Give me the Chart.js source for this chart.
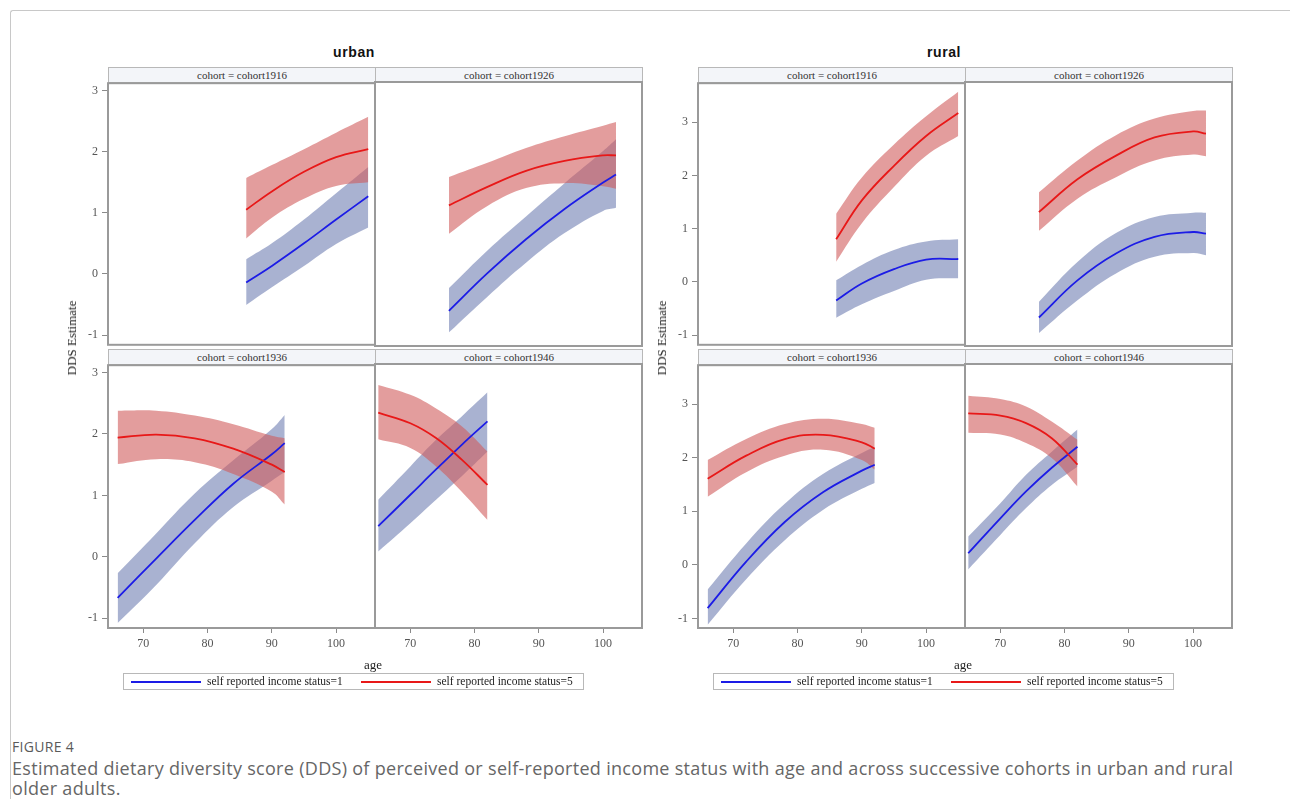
<!DOCTYPE html>
<html>
<head>
<meta charset="utf-8">
<script src="https://cdn.jsdelivr.net/npm/chart.js@4.4.1/dist/chart.umd.min.js"></script>
<style>
  body { margin: 0; background: #fff; }
  #page { position: relative; width: 1290px; height: 799px; overflow: hidden; background: #fff; }
  #frame { position: absolute; left: 10px; top: 10px; width: 1300px; height: 800px;
           border-top: 1px solid #c8c8c8; border-left: 1px solid #c8c8c8; border-top-left-radius: 3px; }
  canvas { position: absolute; }
  .strip { position: absolute; box-sizing: border-box; height: 16px; background: #f3f5f9;
           border: 1px solid #b8b8b8; font: 11px "Liberation Serif", serif; color: #333;
           text-align: center; line-height: 14px; }
  .title { position: absolute; font: bold 14px "Liberation Sans", Arial, sans-serif; color: #111;
           transform: translate(-50%, -50%); letter-spacing: 0.6px; }
  .serif { position: absolute; font: 13px "Liberation Serif", serif; color: #222; white-space: nowrap; }
  .legend { position: absolute; box-sizing: border-box; height: 17px; border: 1px solid #b8b8b8; background: #fff; }
  .swatch { position: absolute; height: 2px; top: 7px; }
  .legtxt { position: absolute; top: 1px; font: 11.5px "Liberation Serif", serif; color: #222; white-space: nowrap; }
  #figlabel { position: absolute; left: 12px; top: 737px; font: 14px "Open Sans", sans-serif; color: #5a5a5a; letter-spacing: 0.3px; }
  #caption { position: absolute; left: 12px; top: 758px; font: 18px/20px "Open Sans", sans-serif; color: #666; letter-spacing: 0.3px; white-space: nowrap; }
</style>
</head>
<body>
<div id="page"><div id="frame"></div></div>
<script>
// ---------- data ----------
const areas = ['urban', 'rural'];
const cohorts = ['cohort1916', 'cohort1926', 'cohort1936', 'cohort1946'];
const legendLabels = ['self reported income status=1', 'self reported income status=5'];
const xTicks = [70, 80, 90, 100];
const yTicks = [-1, 0, 1, 2, 3];

const ages1916 = [86, 90, 95, 100, 105];
const ages1926 = [76, 82, 88, 94, 100, 102];
const ages1936 = [66, 72, 78, 84, 90, 92];
const ages1946 = [65, 70, 74, 78, 82];

// urban
const u16Est1 = [-0.14, 0.13, 0.50, 0.89, 1.27];
const u16Lo1  = [-0.51, -0.22, 0.13, 0.49, 0.76];
const u16Hi1  = [0.24, 0.50, 0.89, 1.32, 1.75];
const u16Est5 = [1.05, 1.35, 1.67, 1.91, 2.04];
const u16Lo5  = [0.58, 0.92, 1.23, 1.44, 1.50];
const u16Hi5  = [1.57, 1.78, 2.04, 2.31, 2.57];

const u26Est1 = [-0.59, 0.02, 0.57, 1.06, 1.49, 1.62];
const u26Lo1  = [-0.94, -0.36, 0.19, 0.67, 1.03, 1.08];
const u26Hi1  = [-0.22, 0.39, 0.94, 1.48, 2.00, 2.19];
const u26Est5 = [1.12, 1.42, 1.68, 1.84, 1.93, 1.93];
const u26Lo5  = [0.66, 1.11, 1.40, 1.48, 1.43, 1.39];
const u26Hi5  = [1.58, 1.81, 2.05, 2.24, 2.41, 2.47];

const u36Est1 = [-0.67, -0.03, 0.60, 1.19, 1.67, 1.85];
const u36Lo1  = [-1.08, -0.46, 0.22, 0.81, 1.24, 1.38];
const u36Hi1  = [-0.27, 0.38, 1.03, 1.57, 2.08, 2.31];
const u36Est5 = [1.94, 1.99, 1.93, 1.76, 1.50, 1.38];
const u36Lo5  = [1.51, 1.59, 1.54, 1.35, 1.06, 0.85];
const u36Hi5  = [2.38, 2.38, 2.30, 2.16, 1.97, 1.93];

const u46Est1 = [0.49, 1.00, 1.41, 1.81, 2.19];
const u46Lo1  = [0.08, 0.54, 0.92, 1.30, 1.70];
const u46Hi1  = [0.92, 1.46, 1.89, 2.27, 2.66];
const u46Est5 = [2.33, 2.16, 1.92, 1.57, 1.16];
const u46Lo5  = [1.90, 1.76, 1.46, 1.05, 0.59];
const u46Hi5  = [2.78, 2.62, 2.40, 2.11, 1.70];

// rural
const r16Est1 = [-0.35, -0.03, 0.24, 0.42, 0.43];
const r16Lo1  = [-0.67, -0.42, -0.17, 0.04, 0.07];
const r16Hi1  = [0.03, 0.32, 0.60, 0.76, 0.80];
const r16Est5 = [0.80, 1.53, 2.18, 2.74, 3.17];
const r16Lo5  = [0.38, 1.10, 1.78, 2.37, 2.74];
const r16Hi5  = [1.28, 1.96, 2.58, 3.11, 3.57];

const r26Est1 = [-0.65, 0.04, 0.54, 0.85, 0.94, 0.91];
const r26Lo1  = [-0.94, -0.33, 0.17, 0.48, 0.55, 0.51];
const r26Hi1  = [-0.36, 0.38, 0.92, 1.22, 1.30, 1.30];
const r26Est5 = [1.31, 1.92, 2.36, 2.70, 2.81, 2.77];
const r26Lo5  = [0.96, 1.56, 1.96, 2.27, 2.38, 2.35];
const r26Hi5  = [1.68, 2.27, 2.74, 3.05, 3.19, 3.20];

const r36Est1 = [-0.81, 0.06, 0.80, 1.36, 1.76, 1.87];
const r36Lo1  = [-1.12, -0.27, 0.46, 1.03, 1.42, 1.53];
const r36Hi1  = [-0.46, 0.40, 1.14, 1.70, 2.09, 2.20];
const r36Est5 = [1.61, 2.04, 2.35, 2.43, 2.29, 2.17];
const r36Lo5  = [1.27, 1.73, 2.04, 2.15, 1.96, 1.78];
const r36Hi5  = [1.96, 2.35, 2.63, 2.73, 2.63, 2.56];

const r46Est1 = [0.21, 0.86, 1.36, 1.80, 2.19];
const r46Lo1  = [-0.09, 0.55, 1.05, 1.48, 1.82];
const r46Hi1  = [0.52, 1.14, 1.67, 2.10, 2.51];
const r46Est5 = [2.81, 2.77, 2.63, 2.35, 1.86];
const r46Lo5  = [2.45, 2.42, 2.26, 1.98, 1.45];
const r46Hi5  = [3.14, 3.08, 2.94, 2.66, 2.32];

// ---------- layout ----------
const PLOT_W = 267, PLOT_H = 264;
const panelX = { urban: 108, rural: 698 };
const rowY = [82, 364];
const xRange = [64.5, 106.05];
const yRange = { urban: [-1.16, 3.12], rural: [-1.18, 3.73] };
const LINE1 = '#1c1ce6', LINE5 = '#e81818';
const BAND1 = 'rgba(111,126,179,0.6)', BAND5 = 'rgba(208,91,91,0.6)';
const PAD = 10, Y_AXIS_W = 44, X_AXIS_H = 30;

const subplots = [
  { area: 'urban', ages: ages1916, s1: [u16Lo1, u16Est1, u16Hi1], s5: [u16Lo5, u16Est5, u16Hi5] },
  { area: 'urban', ages: ages1926, s1: [u26Lo1, u26Est1, u26Hi1], s5: [u26Lo5, u26Est5, u26Hi5] },
  { area: 'urban', ages: ages1936, s1: [u36Lo1, u36Est1, u36Hi1], s5: [u36Lo5, u36Est5, u36Hi5] },
  { area: 'urban', ages: ages1946, s1: [u46Lo1, u46Est1, u46Hi1], s5: [u46Lo5, u46Est5, u46Hi5] },
  { area: 'rural', ages: ages1916, s1: [r16Lo1, r16Est1, r16Hi1], s5: [r16Lo5, r16Est5, r16Hi5] },
  { area: 'rural', ages: ages1926, s1: [r26Lo1, r26Est1, r26Hi1], s5: [r26Lo5, r26Est5, r26Hi5] },
  { area: 'rural', ages: ages1936, s1: [r36Lo1, r36Est1, r36Hi1], s5: [r36Lo5, r36Est5, r36Hi5] },
  { area: 'rural', ages: ages1946, s1: [r46Lo1, r46Est1, r46Hi1], s5: [r46Lo5, r46Est5, r46Hi5] },
];

const page = document.getElementById('page');
function add(tag, cls, css, text) {
  const el = document.createElement(tag);
  if (cls) el.className = cls;
  Object.assign(el.style, css);
  if (text != null) el.textContent = text;
  page.appendChild(el);
  return el;
}
const pts = (ages, vals) => ages.map((a, i) => ({ x: a, y: vals[i] }));

const boxPlugin = {
  id: 'box',
  afterDraw(chart) {
    const { ctx, chartArea: a } = chart;
    ctx.save();
    ctx.strokeStyle = '#9a9a9a';
    ctx.lineWidth = 2;
    ctx.strokeRect(a.left, a.top, a.right - a.left, a.bottom - a.top);
    ctx.restore();
  }
};

function curve(ages, vals, extra) {
  return Object.assign({ data: pts(ages, vals), pointRadius: 0, tension: 0.4 }, extra);
}

subplots.forEach((sp, i) => {
  const k = i % 4, col = k % 2, row = Math.floor(k / 2);
  const px = panelX[sp.area] + col * PLOT_W, py = rowY[row];
  const ml = col === 0 ? Y_AXIS_W : PAD, mb = row === 1 ? X_AXIS_H : PAD;

  // strip header
  add('div', 'strip', { left: px + 'px', top: (py - 15) + 'px', width: (PLOT_W + 1) + 'px' }, 'cohort = ' + cohorts[k]);

  const cv = add('canvas', null, { left: (px - ml) + 'px', top: (py - PAD) + 'px' });
  cv.width = PLOT_W + ml + PAD; cv.height = PLOT_H + PAD + mb;
  cv.style.width = cv.width + 'px'; cv.style.height = cv.height + 'px';

  const edge = { borderWidth: 0, borderColor: 'rgba(0,0,0,0)' };
  const datasets = [
    curve(sp.ages, sp.s1[0], Object.assign({ fill: false, order: 4 }, edge)),
    curve(sp.ages, sp.s1[2], Object.assign({ fill: '-1', backgroundColor: BAND1, order: 4 }, edge)),
    curve(sp.ages, sp.s5[0], Object.assign({ fill: false, order: 3 }, edge)),
    curve(sp.ages, sp.s5[2], Object.assign({ fill: '-1', backgroundColor: BAND5, order: 3 }, edge)),
    curve(sp.ages, sp.s1[1], { borderColor: LINE1, borderWidth: 1.8, fill: false, order: 2 }),
    curve(sp.ages, sp.s5[1], { borderColor: LINE5, borderWidth: 1.8, fill: false, order: 1 }),
  ];

  const tickFont = { family: '"Liberation Serif", serif', size: 12 };
  new Chart(cv, {
    type: 'line',
    data: { datasets },
    options: {
      responsive: false, animation: false, devicePixelRatio: 1,
      layout: { autoPadding: false, padding: { left: col === 0 ? 0 : PAD, right: PAD, top: PAD, bottom: row === 1 ? 0 : PAD } },
      plugins: { legend: { display: false }, tooltip: { enabled: false } },
      scales: {
        x: {
          type: 'linear', min: xRange[0], max: xRange[1], display: row === 1,
          afterBuildTicks: s => { s.ticks = xTicks.map(v => ({ value: v })); },
          afterFit: s => { s.height = row === 1 ? X_AXIS_H : 0; },
          grid: { drawOnChartArea: false, drawTicks: true, tickLength: 5, color: '#8a8a8a' },
          border: { display: false },
          ticks: { font: tickFont, color: '#555', padding: 4, maxRotation: 0 }
        },
        y: {
          type: 'linear', min: yRange[sp.area][0], max: yRange[sp.area][1], display: col === 0,
          afterBuildTicks: s => { s.ticks = yTicks.map(v => ({ value: v })); },
          afterFit: s => { s.width = col === 0 ? Y_AXIS_W : 0; },
          grid: { drawOnChartArea: false, drawTicks: true, tickLength: 6, color: '#8a8a8a' },
          border: { display: false },
          ticks: { font: tickFont, color: '#555', padding: 4 }
        }
      }
    },
    plugins: [boxPlugin]
  });
});

// panel titles, axis titles, legends
areas.forEach(area => {
  const x0 = panelX[area];
  add('div', 'title', { left: (x0 + 246) + 'px', top: '52px' }, area);
  add('div', 'serif', { left: (x0 - 36) + 'px', top: '338px', transform: 'translate(-50%,-50%) rotate(-90deg)' }, 'DDS Estimate');
  add('div', 'serif', { left: (x0 + PLOT_W - 2) + 'px', top: '665px', transform: 'translate(-50%,-50%)' }, 'age');

  const lg = add('div', 'legend', { left: (x0 + 15) + 'px', top: '673px', width: '461px' });
  [[LINE1, 7, 83], [LINE5, 237, 313]].forEach(([c, sx, tx], j) => {
    const sw = document.createElement('div'); sw.className = 'swatch';
    Object.assign(sw.style, { left: sx + 'px', width: '70px', background: c });
    lg.appendChild(sw);
    const t = document.createElement('div'); t.className = 'legtxt';
    t.style.left = tx + 'px'; t.textContent = legendLabels[j];
    lg.appendChild(t);
  });
});

add('div', null, {}, 'FIGURE 4').id = 'figlabel';
const cap = add('div', null, {});
cap.id = 'caption';
cap.innerHTML = 'Estimated dietary diversity score (DDS) of perceived or self-reported income status with age and across successive cohorts in urban and rural<br>older adults.';
</script>
</body>
</html>
